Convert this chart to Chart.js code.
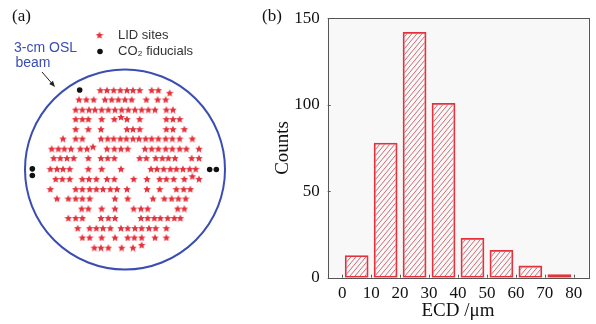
<!DOCTYPE html>
<html>
<head>
<meta charset="utf-8">
<script src="https://cdn.jsdelivr.net/npm/chart.js@4.4.1/dist/chart.umd.min.js"></script>
<style>
  html, body { margin: 0; padding: 0; background: #ffffff; }
  #wrap { position: relative; width: 596px; height: 324px; overflow: hidden; }
  canvas { position: absolute; top: 0; }
  #sites { left: 0; }
  #hist { left: 255px; }
</style>
</head>
<body>
<div id="wrap">
  <canvas id="sites" width="250" height="324"></canvas>
  <canvas id="hist" width="341" height="324"></canvas>
</div>
<script>
// ---------- (a) LID site map, coordinates in mm from the beam centre ----------
const BEAM_DIAMETER_MM = 30;

// each row: [y, [x positions]]
const siteRows = [
  [11.8,  [-3.7, -2.7, -1.7, -0.7, 0.3, 1.2, 2.2, 4.0, 5.0]],
  [10.4,  [-6.9, -5.8, -4.7, -3.0, -2.0, -1.0, 0, 1.0, 3.2, 4.9, 6.1]],
  [8.9,   [-7.4, -6.4, -5.4, -4.5, -3.5, -2.5, -1.5, -0.5, 0.5, 1.5, 2.5, 3.5, 4.5, 6.2, 7.2]],
  [7.5,   [-7.4, -6.4, -5.5, -3.5, -1.6, 0.3, 2.2, 6.2, 7.2, 8.2]],
  [6.0,   [-7.4, -5.5, -3.6, 0.3, 1.2, 2.2, 6.2, 7.2, 8.9]],
  [4.6,   [-9.3, -7.4, -6.4, -3.6, -2.6, -1.7, -0.7, 0.2, 1.2, 2.1, 3.1, 4.0, 5.0, 6.1, 7.1, 8.2, 10.1]],
  [3.1,   [-11.0, -10.0, -9.1, -8.1, -6.7, -5.7, -2.7, -1.6, -0.6, 0.4, 3.0, 4.0, 5.0, 6.1, 7.1, 8.2, 9.2, 11.1]],
  [1.7,   [-10.7, -9.7, -8.7, -7.7, -5.5, -3.6, -2.6, -1.6, 2.2, 3.2, 4.6, 5.6, 6.5, 7.5, 10.0, 11.1]],
  [0.1,   [-11.2, -10.2, -9.3, -8.3, -5.5, -3.5, -0.6, 3.9, 4.8, 5.8, 6.8, 7.7, 8.7, 9.7, 10.6]],
  [-1.4,  [-10.4, -9.4, -8.3, -6.4, -5.4, -4.3, -2.7, -1.6, 1.3, 3.3, 5.2, 6.2, 7.3, 8.9, 11.1]],
  [-2.9,  [-11.2, -7.4, -6.4, -5.3, -4.3, -3.3, -2.2, -1.2, 0.3, 3.3, 5.2, 7.7, 8.8, 9.8]],
  [-4.3,  [-10.2, -8.5, -7.4, -6.4, -5.3, -1.5, 0.4, 4.2, 5.9, 7.0, 8.0, 9.1]],
  [-5.8,  [-6.5, -5.5, -3.5, -1.5, 1.3, 2.4, 3.4, 7.9, 8.9]],
  [-7.2,  [-8.5, -7.4, -6.4, -3.6, -2.5, -1.5, 2.4, 3.4, 4.4, 5.3, 6.4, 7.4, 8.3]],
  [-8.7,  [-7.1, -5.3, -4.3, -3.3, -2.2, -0.6, 0.4, 1.5, 2.5, 3.6, 4.6, 6.2]],
  [-10.1, [-6.4, -5.3, -3.5, -1.5, 0.4, 1.4, 2.5, 4.5, 6.2]],
  [-11.6, [-4.6, -3.6, -2.5, -0.5, 1.2]]
];
// sites sitting slightly off their row: [x, y]
const offRowSites = [[6.7, 11.4], [-0.6, 7.8], [-4.8, 3.4], [10.1, -1.0], [2.5, -11.2]];
// CO2 laser fiducial marks: [x, y]
const fiducials = [[-6.8, 11.8], [-13.9, 0.1], [-13.9, -0.9], [12.7, 0.0], [13.7, 0.0]];

// ---------- (b) ECD histogram ----------
const binCenters = [5, 15, 25, 35, 45, 55, 65, 75];
const counts = [13, 78, 142, 101, 23, 16, 7, 2];
const xTickValues = [0, 10, 20, 30, 40, 50, 60, 70, 80];
const yTickValues = [0, 50, 100, 150];

const RED = '#e6303b';
const BLUE = '#3a4db3';

function makeStar(size, color) {
  const c = document.createElement('canvas');
  c.width = size; c.height = size;
  const g = c.getContext('2d');
  const cx = size / 2, cy = size / 2 + 0.4, R = size / 2, r = R * 0.46;
  g.beginPath();
  for (let i = 0; i < 10; i++) {
    const a = -Math.PI / 2 + i * Math.PI / 5;
    const rad = i % 2 ? r : R;
    g.lineTo(cx + rad * Math.cos(a), cy + rad * Math.sin(a));
  }
  g.closePath();
  g.fillStyle = color;
  g.fill();
  return c;
}
const starImg = makeStar(8, RED);

const sitePoints = [];
siteRows.forEach(([y, xs]) => xs.forEach(x => sitePoints.push({ x, y })));
offRowSites.forEach(([x, y]) => sitePoints.push({ x, y }));
const fiducialPoints = fiducials.map(([x, y]) => ({ x, y }));

const panelA = {
  id: 'panelA',
  beforeDatasetsDraw(chart) {
    const { ctx, scales: { x, y } } = chart;
    const cx = x.getPixelForValue(0), cy = y.getPixelForValue(0);
    const r = x.getPixelForValue(BEAM_DIAMETER_MM / 2) - cx;
    ctx.save();
    ctx.beginPath();
    ctx.arc(cx, cy, r, 0, Math.PI * 2);
    ctx.strokeStyle = BLUE;
    ctx.lineWidth = 2;
    ctx.stroke();
    ctx.restore();
  },
  afterDraw(chart) {
    const ctx = chart.ctx;
    ctx.save();
    // panel letter
    ctx.fillStyle = '#111';
    ctx.font = '17px "Liberation Serif", serif';
    ctx.textBaseline = 'middle';
    ctx.textAlign = 'left';
    ctx.fillText('(a)', 12, 17);
    // beam label
    ctx.fillStyle = BLUE;
    ctx.font = '14px "Liberation Sans", Arial, sans-serif';
    ctx.fillText('3-cm OSL', 14, 48.5);
    ctx.fillText('beam', 15.5, 63.5);
    // arrow towards the beam edge
    ctx.strokeStyle = '#222';
    ctx.fillStyle = '#222';
    ctx.lineWidth = 1;
    const x0 = 42, y0 = 72, x1 = 55, y1 = 87;
    const ang = Math.atan2(y1 - y0, x1 - x0);
    ctx.beginPath();
    ctx.moveTo(x0, y0);
    ctx.lineTo(x1 - 4 * Math.cos(ang), y1 - 4 * Math.sin(ang));
    ctx.stroke();
    ctx.beginPath();
    ctx.moveTo(x1, y1);
    ctx.lineTo(x1 - 6 * Math.cos(ang) + 2.5 * Math.sin(ang), y1 - 6 * Math.sin(ang) - 2.5 * Math.cos(ang));
    ctx.lineTo(x1 - 6 * Math.cos(ang) - 2.5 * Math.sin(ang), y1 - 6 * Math.sin(ang) + 2.5 * Math.cos(ang));
    ctx.closePath();
    ctx.fill();
    // legend
    ctx.drawImage(starImg, 99.5 - 4, 35 - 4);
    ctx.beginPath();
    ctx.arc(100, 51.5, 2.8, 0, Math.PI * 2);
    ctx.fillStyle = '#111';
    ctx.fill();
    ctx.fillStyle = '#333';
    ctx.font = '13px "Liberation Sans", Arial, sans-serif';
    ctx.fillText('LID sites', 118, 35.5);
    ctx.fillText('CO\u2082 fiducials', 118, 51.5);
    ctx.restore();
  }
};

new Chart(document.getElementById('sites'), {
  type: 'scatter',
  data: {
    datasets: [
      { label: 'LID sites', data: sitePoints, pointStyle: starImg, pointRadius: 4 },
      { label: 'CO\u2082 fiducials', data: fiducialPoints, pointStyle: 'circle', pointRadius: 2.8,
        backgroundColor: '#111', borderWidth: 0 }
    ]
  },
  options: {
    responsive: false,
    animation: false,
    events: [],
    layout: { padding: { left: 3.8, right: 3.8, top: 21.4, bottom: 6.4 } },
    scales: {
      x: { type: 'linear', min: -18, max: 18, display: false },
      y: { type: 'linear', min: -22, max: 22, display: false }
    },
    plugins: { legend: { display: false }, tooltip: { enabled: false } }
  },
  plugins: [panelA]
});

// ---------- (b) ----------
function makeHatch() {
  const w = 5, h = 6;
  const c = document.createElement('canvas');
  c.width = w; c.height = h;
  const g = c.getContext('2d');
  g.strokeStyle = 'rgba(200,70,80,0.9)';
  g.lineWidth = 0.9;
  g.beginPath();
  g.moveTo(0, h); g.lineTo(w, 0);
  g.moveTo(-w, h); g.lineTo(0, 0);
  g.moveTo(w, h); g.lineTo(2 * w, 0);
  g.stroke();
  return g.createPattern(c, 'repeat');
}

const TICK_FONT = { family: '"Liberation Serif", "DejaVu Serif", serif', size: 17 };
const TITLE_FONT = { family: '"Liberation Serif", "DejaVu Serif", serif', size: 19 };

const frameB = {
  id: 'frameB',
  beforeDatasetsDraw(chart) {
    const { ctx, chartArea: a } = chart;
    ctx.save();
    ctx.fillStyle = '#f8f8f8';
    ctx.fillRect(a.left, a.top, a.right - a.left, a.bottom - a.top);
    ctx.restore();
  },
  afterDatasetsDraw(chart) {
    const { ctx, chartArea: a, scales: { x, y } } = chart;
    ctx.save();
    ctx.strokeStyle = '#555';
    ctx.lineWidth = 1;
    ctx.strokeRect(Math.round(a.left) + 0.5, Math.round(a.top) + 0.5,
      Math.round(a.right - a.left), Math.round(a.bottom - a.top));
    ctx.beginPath();
    xTickValues.forEach(v => {
      const px = Math.round(x.getPixelForValue(v)) + 0.5;
      ctx.moveTo(px, a.bottom); ctx.lineTo(px, a.bottom - 3);
    });
    yTickValues.forEach(v => {
      const py = Math.round(y.getPixelForValue(v)) + 0.5;
      ctx.moveTo(a.left, py); ctx.lineTo(a.left + 3, py);
    });
    ctx.stroke();
    ctx.fillStyle = '#111';
    ctx.font = '17px "Liberation Serif", serif';
    ctx.textBaseline = 'middle';
    ctx.fillText('(b)', 7, 17);
    ctx.restore();
  }
};

new Chart(document.getElementById('hist'), {
  type: 'bar',
  data: {
    datasets: [{
      data: binCenters.map((c, i) => ({ x: c, y: counts[i] })),
      backgroundColor: makeHatch(),
      borderColor: RED,
      borderWidth: 1.8,
      borderSkipped: false,
      barPercentage: 0.82,
      categoryPercentage: 1
    }]
  },
  options: {
    responsive: false,
    animation: false,
    events: [],
    layout: { padding: { left: 0, right: 7.7, top: 17.3, bottom: 0 } },
    scales: {
      x: {
        type: 'linear', min: 0, max: 80,
        afterBuildTicks(s) { s.ticks = xTickValues.map(v => ({ value: v })); },
        afterFit(s) { s.height = 46.3; },
        grid: { display: false, drawTicks: false },
        border: { display: false },
        ticks: { padding: 5.4, color: '#111', font: TICK_FONT, maxRotation: 0, autoSkip: false },
        title: { display: true, text: 'ECD /\u03bcm', color: '#111', font: TITLE_FONT, padding: { top: 0, bottom: 1.6 } }
      },
      y: {
        type: 'linear', min: 0, max: 150,
        afterBuildTicks(s) { s.ticks = yTickValues.map(v => ({ value: v })); },
        afterFit(s) { s.width = 72.7; },
        grid: { display: false, drawTicks: false },
        border: { display: false },
        ticks: { padding: 8, color: '#111', font: TICK_FONT },
        title: { display: true, text: 'Counts', color: '#111', font: TITLE_FONT, padding: { top: 16.9, bottom: 0 } }
      }
    },
    plugins: { legend: { display: false }, tooltip: { enabled: false } }
  },
  plugins: [frameB]
});
</script>
</body>
</html>
